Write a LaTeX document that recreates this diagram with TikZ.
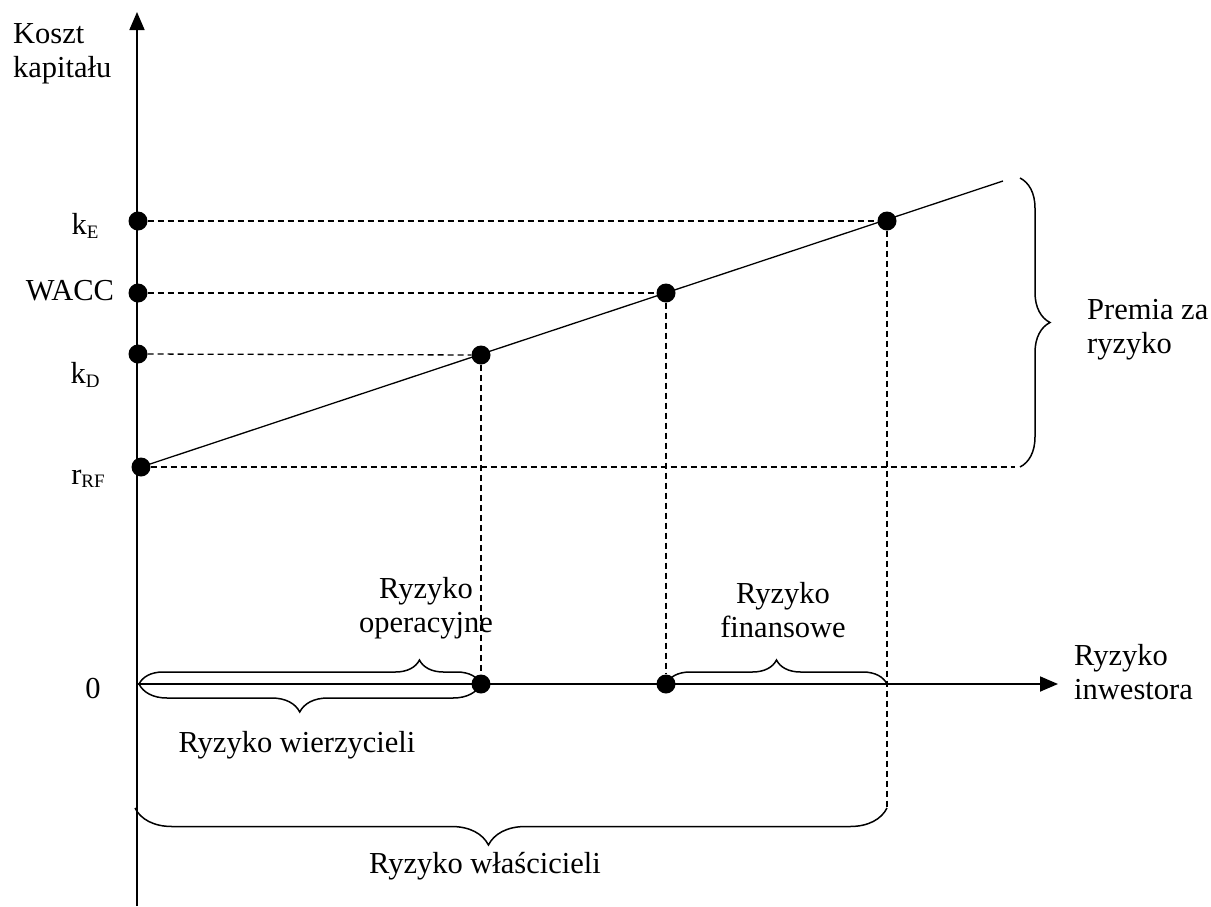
\documentclass[tikz,border=0pt]{standalone}
\usepackage{fontspec}
\setmainfont{Liberation Serif}
\usetikzlibrary{arrows.meta,decorations.pathreplacing}
\newcommand\subtxt[1]{\raisebox{-0.25ex}{\fontsize{19}{19}\selectfont #1}}
\begin{document}
\begin{tikzpicture}[x=1pt,y=-1pt,
  lbl/.style={font=\fontsize{30.5}{34}\selectfont, inner sep=0pt, align=center},
  dot/.style={circle, fill=black, inner sep=0pt, minimum size=19pt},
  dsh/.style={line width=1.3pt, dash pattern=on 6pt off 4pt},
  ax/.style={line width=1.8pt, -{Triangle[length=18pt,width=15pt]}},
  br/.style={line width=1.5pt, decorate, decoration={brace, amplitude=#1}},
]
\useasboundingbox (0,0) rectangle (1211,906);
% axes
\coordinate (ybot) at (137,906);
\coordinate (ytop) at (137,12);
\coordinate (O) at (137,684);
\coordinate (xend) at (1058,684);
\draw[ax] (ybot) -- (ytop);
\draw[ax] (O) -- (xend);
% dots on y axis
\node[dot] (ke0) at (138,221) {};
\node[dot] (wa0) at (138,293) {};
\node[dot] (kd0) at (138,354) {};
\node[dot] (rf) at (141,467) {};
% dots on line
\node[dot] (kd) at (481,355) {};
\node[dot] (wa) at (666,293) {};
\node[dot] (ke) at (887,221) {};
\coordinate (lend) at (1003,181);
% dots on x axis
\node[dot] (xkd) at (481,684) {};
\node[dot] (xwa) at (666,684) {};
% line
\draw[line width=1.3pt] (rf.center) -- (lend);
% dashed
\coordinate (rfend) at (1015,467);
\coordinate (kebot) at (887,808);
\draw[dsh] (ke0) -- (ke);
\draw[dsh] (wa0) -- (wa);
\draw[dsh] (kd0) -- (kd);
\draw[dsh] (rf) -- (rfend);
\draw[dsh] (kd) -- (xkd);
\draw[dsh] (wa) -- (xwa);
\draw[dsh] (ke) -- (kebot);
% braces
\coordinate (b1a) at (139,684);
\coordinate (b1b) at (481,684);
\coordinate (b2a) at (666,684);
\coordinate (b2b) at (887,684);
\coordinate (b3a) at (135,808);
\coordinate (b4a) at (1020,178);
\coordinate (b4b) at (1020,467);
\draw[br=24, decoration={aspect=0.82}] (b1a) -- (b1b);
\draw[br=28, decoration={aspect=0.53}] (b1b) -- (b1a);
\draw[br=24] (b2a) -- (b2b);
\draw[br=37, decoration={aspect=0.53}] (kebot) -- (b3a);
\draw[br=30] (b4a) -- (b4b);
% labels
\node[lbl, align=left, anchor=west] (koszt) at (13,54) {Koszt\\kapitału};
\node[lbl] (lke) at (85,226) {k\subtxt{E}};
\node[lbl] (lwa) at (70,291) {WACC};
\node[lbl] (lkd) at (85,375) {k\subtxt{D}};
\node[lbl] (lrf) at (88,479) {r\subtxt{RF}};
\node[lbl] (l0) at (93,688) {0};
\node[lbl] (oper) at (426,608) {Ryzyko\\operacyjne};
\node[lbl] (fin) at (783,610) {Ryzyko\\finansowe};
\node[lbl, align=left, anchor=west] (inw) at (1074,672) {Ryzyko\\inwestora};
\node[lbl, align=left, anchor=west] (prem) at (1087,330) {Premia za\\ryzyko};
\node[lbl] (wierz) at (297,745) {Ryzyko wierzycieli};
\node[lbl] (wlas) at (485,866) {Ryzyko właścicieli};
\end{tikzpicture}
\end{document}
